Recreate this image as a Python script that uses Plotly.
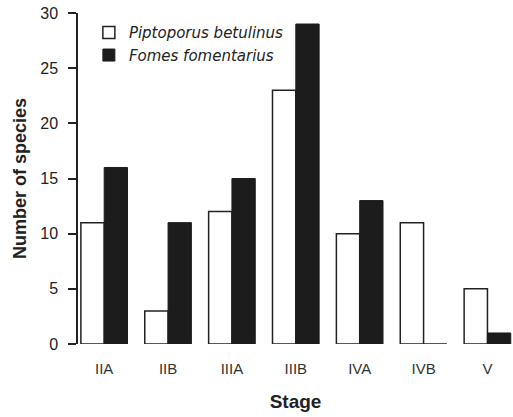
import plotly.graph_objects as go

stages = ["IIA", "IIB", "IIIA", "IIIB", "IVA", "IVB", "V"]
piptoporus = [11, 3, 12, 23, 10, 11, 5]
fomes = [16, 11, 15, 29, 13, 0, 1]
y_ticks = [0, 5, 10, 15, 20, 25, 30]

FONT = "Liberation Sans, Arial, sans-serif"

fig = go.Figure()
fig.add_trace(go.Bar(
    x=stages, y=piptoporus, name="Piptoporus betulinus",
    marker=dict(color="white", line=dict(color="#222", width=1.5)),
))
fig.add_trace(go.Bar(
    x=stages, y=fomes, name="Fomes fomentarius",
    marker=dict(color="#1c1c1c", line=dict(color="#1c1c1c", width=1)),
))

fig.update_layout(
    width=513, height=417,
    margin=dict(l=78, r=0, t=13, b=73),
    paper_bgcolor="white", plot_bgcolor="white",
    barmode="group", bargap=0.27, bargroupgap=0,
    font=dict(family=FONT, color="#222"),
    showlegend=True,
    legend=dict(
        x=0.025, y=0.99, xanchor="left", yanchor="top",
        font=dict(family="DejaVu Sans, sans-serif", size=15, style="italic", color="#222"),
        bgcolor="rgba(0,0,0,0)", tracegroupgap=0, itemwidth=30,
    ),
    xaxis=dict(
        range=[-0.41, 6.4], showline=False, showgrid=False, zeroline=False,
        ticks="", ticklabelstandoff=14, tickfont=dict(size=15, color="#333"),
        title=dict(text="<b>Stage</b>", font=dict(size=19, color="#222"), standoff=18),
    ),
    yaxis=dict(
        range=[0, 30], tickvals=y_ticks, showline=True, linecolor="#222", linewidth=1.5,
        showgrid=False, zeroline=False, ticks="outside", ticklen=8, tickwidth=1.5,
        tickcolor="#222", ticklabelstandoff=7, tickfont=dict(size=16, color="#222"),
        ticklabeloverflow="allow",
        title=dict(text="<b>Number of species</b>", font=dict(size=18, color="#222"), standoff=9),
    ),
)

# remove the browser's default 8px body margin so the figure fills the window
fig.write_html("out.html", config={"displayModeBar": False},
               post_script="document.body.style.margin='0';")
